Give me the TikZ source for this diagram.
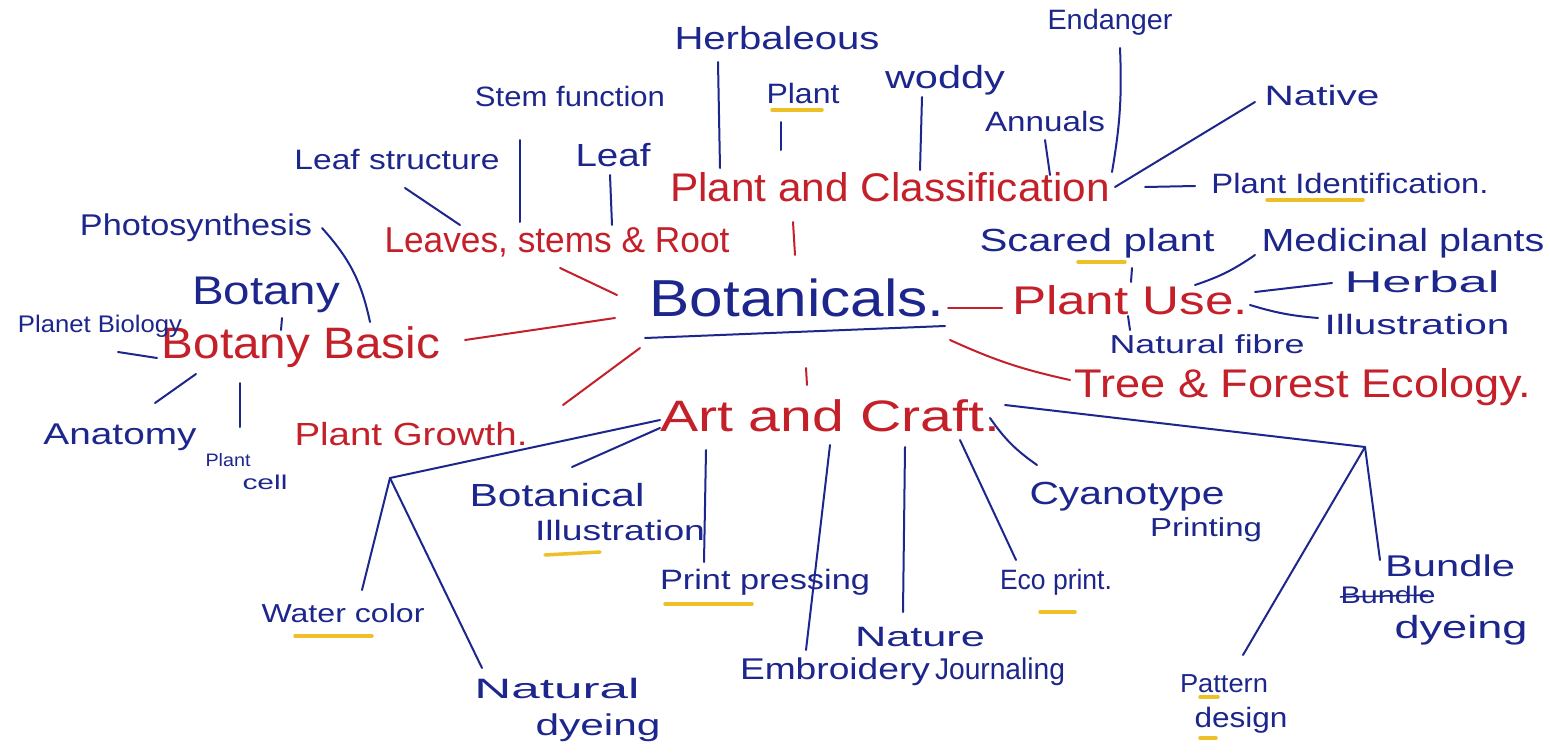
\documentclass[tikz,border=0pt]{standalone}
\usepackage{fontspec}
\setmainfont{Liberation Sans}
\usetikzlibrary{calc}
\definecolor{inkblue}{RGB}{28,38,140}
\definecolor{inkred}{RGB}{196,32,42}
\definecolor{hl}{RGB}{238,192,40}
\newcommand\fw[3][30]{\resizebox{#2pt}{\height}{\fontsize{#1}{#1}\selectfont #3}}
\begin{document}
\begin{tikzpicture}[x=1pt,y=-1pt,
  bt/.style={text=inkblue, inner sep=0pt},
  rt/.style={text=inkred, inner sep=0pt},
  bl/.style={draw=inkblue, line width=2pt, line cap=round},
  rl/.style={draw=inkred, line width=2pt, line cap=round},
  hlline/.style={draw=hl, line width=3.5pt, line cap=round}]
\fill[white] (0,0) rectangle (1550,755);
\useasboundingbox (0,0) rectangle (1550,755);

% main nodes
\node[bt] (botan) at (797,298) {\fw[52]{295}{Botanicals.}};
\node[rt] (pac) at (890,187) {\fw[40]{440}{Plant and Classification}};
\node[rt] (lsr) at (557,242) {\fw[36]{345}{Leaves, stems \& Root}};
\node[rt] (bb) at (301,347) {\fw[44]{278}{Botany Basic}};
\node[rt] (growth) at (411,434) {\fw[32]{233}{Plant Growth.}};
\node[rt] (use) at (1130,300) {\fw[40]{236}{Plant Use.}};
\node[rt] (tree) at (1303,387) {\fw[40]{457}{Tree \& Forest Ecology.}};
\node[rt] (art) at (830,416) {\fw[44]{340}{Art and Craft.}};

% blue labels
\node[bt] (stem) at (570,96) {\fw[28]{190}{Stem function}};
\node[bt] (leafs) at (397,160) {\fw[28]{205}{Leaf structure}};
\node[bt] (leaf) at (613,155) {\fw[32]{75}{Leaf}};
\node[bt] (herb) at (777,38) {\fw[32]{205}{Herbaleous}};
\node[bt] (plant) at (803,93) {\fw[28]{73}{Plant}};
\node[bt] (woddy) at (945,80) {\fw[32]{120}{woddy}};
\node[bt] (annuals) at (1045,121) {\fw[28]{120}{Annuals}};
\node[bt] (endanger) at (1110,22) {\fw[28]{125}{Endanger}};
\node[bt] (native) at (1322,95) {\fw[28]{115}{Native}};
\node[bt] (ident) at (1350,183) {\fw[28]{277}{Plant Identification.}};
\node[bt] (photo) at (196,228) {\fw[30]{232}{Photosynthesis}};
\node[bt] (botany) at (266,295) {\fw[40]{148}{Botany}};
\node[bt] (planet) at (100,326) {\fw[24]{164}{Planet Biology}};
\node[bt] (anat) at (120,437) {\fw[30]{153}{Anatomy}};
\node[bt] (cella) at (228,460) {\fw[18]{45}{Plant}};
\node[bt] (cellb) at (265,482) {\fw[20]{45}{cell}};
\node[bt] (scared) at (1097,243) {\fw[32]{235}{Scared plant}};
\node[bt] (medic) at (1403,243) {\fw[32]{283}{Medicinal plants}};
\node[bt] (herbal) at (1422,282) {\fw[30]{155}{Herbal}};
\node[bt] (illus) at (1417,324) {\fw[28]{185}{Illustration}};
\node[bt] (fibre) at (1207,344) {\fw[26]{195}{Natural fibre}};
\node[bt] (botill) at (557,495) {\fw[32]{175}{Botanical}};
\node[bt] (botillb) at (620,530) {\fw[28]{170}{Illustration}};
\node[bt] (print) at (765,582) {\fw[28]{210}{Print pressing}};
\node[bt] (water) at (343,613) {\fw[26]{163}{Water color}};
\node[bt] (natdye) at (557,688) {\fw[28]{165}{Natural}};
\node[bt] (natdyeb) at (598,728) {\fw[30]{125}{dyeing}};
\node[bt] (embro) at (835,672) {\fw[30]{190}{Embroidery}};
\node[bt] (nature) at (920,637) {\fw[28]{130}{Nature}};
\node[bt] (natureb) at (1000,672) {\fw[30]{130}{Journaling}};
\node[bt] (eco) at (1056,582) {\fw[28]{112}{Eco print.}};
\node[bt] (cyan) at (1127,497) {\fw[32]{195}{Cyanotype}};
\node[bt] (cyanb) at (1206,530) {\fw[26]{112}{Printing}};
\node[bt] (pattern) at (1224,684) {\fw[26]{88}{Pattern}};
\node[bt] (patternb) at (1241,720) {\fw[28]{93}{design}};
\node[bt] (bundle) at (1450,566) {\fw[30]{130}{Bundle}};
\node[bt] (bundleb) at (1388,595) {\fw[24]{95}{Bundle}};
\node[bt] (bundlec) at (1461,630) {\fw[32]{133}{dyeing}};

% yellow highlights
\draw[hlline] ($(plant)+(-31,17)$) -- ($(plant)+(19,17)$);
\draw[hlline] ($(ident)+(-83,17)$) -- ($(ident)+(13,17)$);
\draw[hlline] ($(scared)+(-19,19)$) -- ($(scared)+(28,19)$);
\draw[hlline] ($(botillb)+(-75,25)$) -- ($(botillb)+(-20,22)$);
\draw[hlline] ($(print)+(-100,22)$) -- ($(print)+(-13,22)$);
\draw[hlline] ($(water)+(-48,23)$) -- ($(water)+(29,23)$);
\draw[hlline] ($(eco)+(-16,30)$) -- ($(eco)+(19,30)$);
\draw[hlline] ($(pattern)+(-24,13)$) -- ($(pattern)+(-6,13)$);
\draw[hlline] ($(patternb)+(-41,18)$) -- ($(patternb)+(-25,18)$);

% Botanicals underline and strike
\draw[bl] ($(botan)+(-152,40)$) -- ($(botan)+(148,28)$);
\draw[bl, line width=1.5pt] ($(bundleb.west)+(0,2)$) -- ($(bundleb.east)+(-8,0)$);

% branch points
\coordinate (wb) at ($(art)+(-440,62)$);
\coordinate (pb) at ($(art)+(535,31)$);

% blue connectors
\draw[bl] ($(leafs)+(8,28)$) -- ($(lsr)+(-97,-17)$);
\draw[bl] ($(stem)+(-50,44)$) -- ($(lsr)+(-37,-20)$);
\draw[bl] ($(leaf)+(-3,20)$) -- ($(lsr)+(55,-17)$);
\draw[bl] ($(herb)+(-59,24)$) -- ($(pac)+(-170,-19)$);
\draw[bl] ($(plant)+(-22,29)$) -- ($(plant)+(-22,57)$);
\draw[bl] ($(woddy)+(-23,17)$) -- ($(pac)+(30,-17)$);
\draw[bl] ($(annuals)+(0,19)$) -- ($(pac)+(160,-12)$);
\draw[bl] ($(endanger)+(10,26)$) to[bend left=6] ($(pac)+(222,-15)$);
\draw[bl] ($(pac)+(225,0)$) -- ($(native)+(-67,7)$);
\draw[bl] ($(pac)+(255,0)$) -- ($(ident)+(-155,3)$);
\draw[bl] ($(photo)+(126,0)$) to[bend left=15] ($(bb)+(69,-25)$);
\draw[bl] ($(botany)+(16,23)$) -- ($(bb)+(-20,-17)$);
\draw[bl] ($(planet)+(18,26)$) -- ($(bb)+(-144,11)$);
\draw[bl] ($(bb)+(-105,27)$) -- ($(anat)+(35,-34)$);
\draw[bl] ($(bb)+(-61,36)$) -- ($(cella)+(12,-33)$);
\draw[bl] ($(scared)+(35,25)$) -- ($(use)+(1,-18)$);
\draw[bl] ($(use)+(65,-15)$) to[bend right=8] ($(medic)+(-148,12)$);
\draw[bl] ($(use)+(125,-8)$) -- ($(herbal)+(-90,1)$);
\draw[bl] ($(use)+(120,5)$) to[bend right=6] ($(illus)+(-99,-6)$);
\draw[bl] ($(use)+(-2,16)$) -- ($(fibre)+(-77,-14)$);
\draw[bl] ($(art)+(-170,4)$) -- (wb);
\draw[bl] (wb) -- ($(water)+(19,-23)$);
\draw[bl] (wb) -- ($(natdye)+(-75,-20)$);
\draw[bl] ($(art)+(-170,12)$) -- ($(botill)+(15,-28)$);
\draw[bl] ($(art)+(-124,34)$) -- ($(print)+(-61,-20)$);
\draw[bl] ($(art)+(0,29)$) -- ($(embro)+(-29,-22)$);
\draw[bl] ($(art)+(75,31)$) -- ($(nature)+(-17,-25)$);
\draw[bl] ($(art)+(130,24)$) -- ($(eco)+(-40,-22)$);
\draw[bl] ($(art)+(160,2)$) to[bend right=10] ($(cyan)+(-90,-32)$);
\draw[bl] ($(art)+(175,-11)$) -- (pb);
\draw[bl] (pb) -- ($(pattern)+(19,-29)$);
\draw[bl] (pb) -- ($(bundle)+(-70,-6)$);

% red connectors
\draw[rl] ($(lsr)+(3,26)$) -- ($(botan)+(-180,-3)$);
\draw[rl] ($(pac)+(-97,35)$) -- ($(botan)+(-2,-43)$);
\draw[rl] ($(bb)+(164,-7)$) -- ($(botan)+(-182,20)$);
\draw[rl] ($(botan)+(-157,50)$) -- ($(growth)+(152,-29)$);
\draw[rl] ($(botan)+(151,10)$) -- ($(use)+(-128,8)$);
\draw[rl] ($(botan)+(153,42)$) to[bend right=6] ($(tree)+(-233,-7)$);
\draw[rl] ($(botan)+(9,70)$) -- ($(art)+(-23,-31)$);
\end{tikzpicture}
\end{document}
